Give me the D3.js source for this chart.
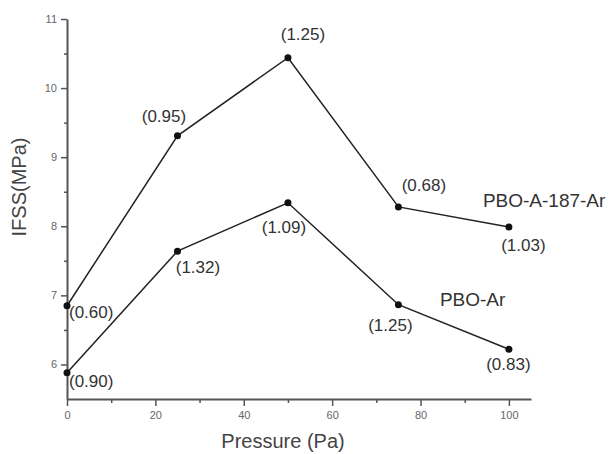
<!DOCTYPE html>
<html><head><meta charset="utf-8">
<script src="https://cdn.jsdelivr.net/npm/d3@7"></script>
<style>body{margin:0;background:#fff;} text{font-family:"Liberation Sans",Arial,sans-serif;}</style>
</head><body>
<svg id="c" width="616" height="454"></svg>
<script>
const pressure = [0, 25, 50, 75, 100];
const seriesNames = ["PBO-A-187-Ar", "PBO-Ar"];
const ifssSilane = [6.85, 9.31, 10.44, 8.28, 7.99];
const ifssAr = [5.88, 7.64, 8.34, 6.865, 6.22];
const cvSilane = ["(0.60)", "(0.95)", "(1.25)", "(0.68)", "(1.03)"];
const cvAr = ["(0.90)", "(1.32)", "(1.09)", "(1.25)", "(0.83)"];
const xTicks = [0, 20, 40, 60, 80, 100];
const xMinorTicks = [10, 30, 50, 70, 90];
const yTicks = [6, 7, 8, 9, 10, 11];
const yMinorTicks = [6.5, 7.5, 8.5, 9.5, 10.5];

const svg = d3.select("#c");
const x = d3.scaleLinear().domain([0, 105]).range([67, 531]);
const y = d3.scaleLinear().domain([5.5, 11]).range([399, 19]);
const axisColor = "#555";

// x axis
const gx = svg.append("g").attr("transform", "translate(0,399)");
gx.call(d3.axisBottom(x).tickValues(xTicks).tickSize(7).tickPadding(5).tickSizeOuter(0).tickFormat(d3.format("d")));
gx.append("g").call(d3.axisBottom(x).tickValues(xMinorTicks).tickSize(4).tickFormat("")).select(".domain").remove();
// y axis
const gy = svg.append("g").attr("transform", "translate(67,0)");
gy.call(d3.axisLeft(y).tickValues(yTicks).tickSize(6).tickPadding(4).tickSizeOuter(0).tickFormat(d3.format("d")));
gy.append("g").call(d3.axisLeft(y).tickValues(yMinorTicks).tickSize(3).tickFormat("")).select(".domain").remove();

svg.selectAll(".domain").attr("stroke", axisColor).attr("stroke-width", 2);
svg.selectAll(".tick line").attr("stroke", axisColor).attr("stroke-width", 1.5);
svg.selectAll(".tick text").attr("fill", "#666").style("font-size", "11px").style("font-family", "Liberation Sans, Arial, sans-serif");

// axis titles
svg.append("text").attr("x", 283).attr("y", 448).attr("text-anchor", "middle")
  .attr("fill", "#444").style("font-size", "20px").text("Pressure (Pa)");
svg.append("text").attr("transform", "translate(26,187) rotate(-90)").attr("text-anchor", "middle")
  .attr("fill", "#444").style("font-size", "20px").text("IFSS(MPa)");

const line = d3.line().x(d => x(d[0])).y(d => y(d[1]));
const series = [
  {name: seriesNames[0], vals: ifssSilane, cv: cvSilane,
   off: [[2, 12, "start"], [-13.5, -14, "middle"], [15, -18, "middle"], [25.5, -16, "middle"], [14.5, 24.5, "middle"]],
   nameOff: [-26, -20]},
  {name: seriesNames[1], vals: ifssAr, cv: cvAr,
   off: [[2, 14, "start"], [20.5, 22, "middle"], [-4, 30, "middle"], [-8, 26, "middle"], [-0.5, 20.5, "middle"]],
   nameOff: [-69, -43]}
];

series.forEach(s => {
  const pts = pressure.map((p, i) => [p, s.vals[i]]);
  svg.append("path").datum(pts).attr("d", line).attr("fill", "none")
    .attr("stroke", "#222").attr("stroke-width", 1.5);
  svg.selectAll(null).data(pts).enter().append("circle")
    .attr("cx", d => x(d[0])).attr("cy", d => y(d[1])).attr("r", 3.5).attr("fill", "#111");
  svg.selectAll(null).data(pts).enter().append("text")
    .attr("x", (d, i) => x(d[0]) + s.off[i][0])
    .attr("y", (d, i) => y(d[1]) + s.off[i][1])
    .attr("text-anchor", (d, i) => s.off[i][2])
    .attr("fill", "#333").style("font-size", "17px")
    .text((d, i) => s.cv[i]);
  const last = pts[pts.length - 1];
  svg.append("text").attr("x", x(last[0]) + s.nameOff[0]).attr("y", y(last[1]) + s.nameOff[1])
    .attr("fill", "#333").style("font-size", "19px").text(s.name);
});
</script>
</body></html>
